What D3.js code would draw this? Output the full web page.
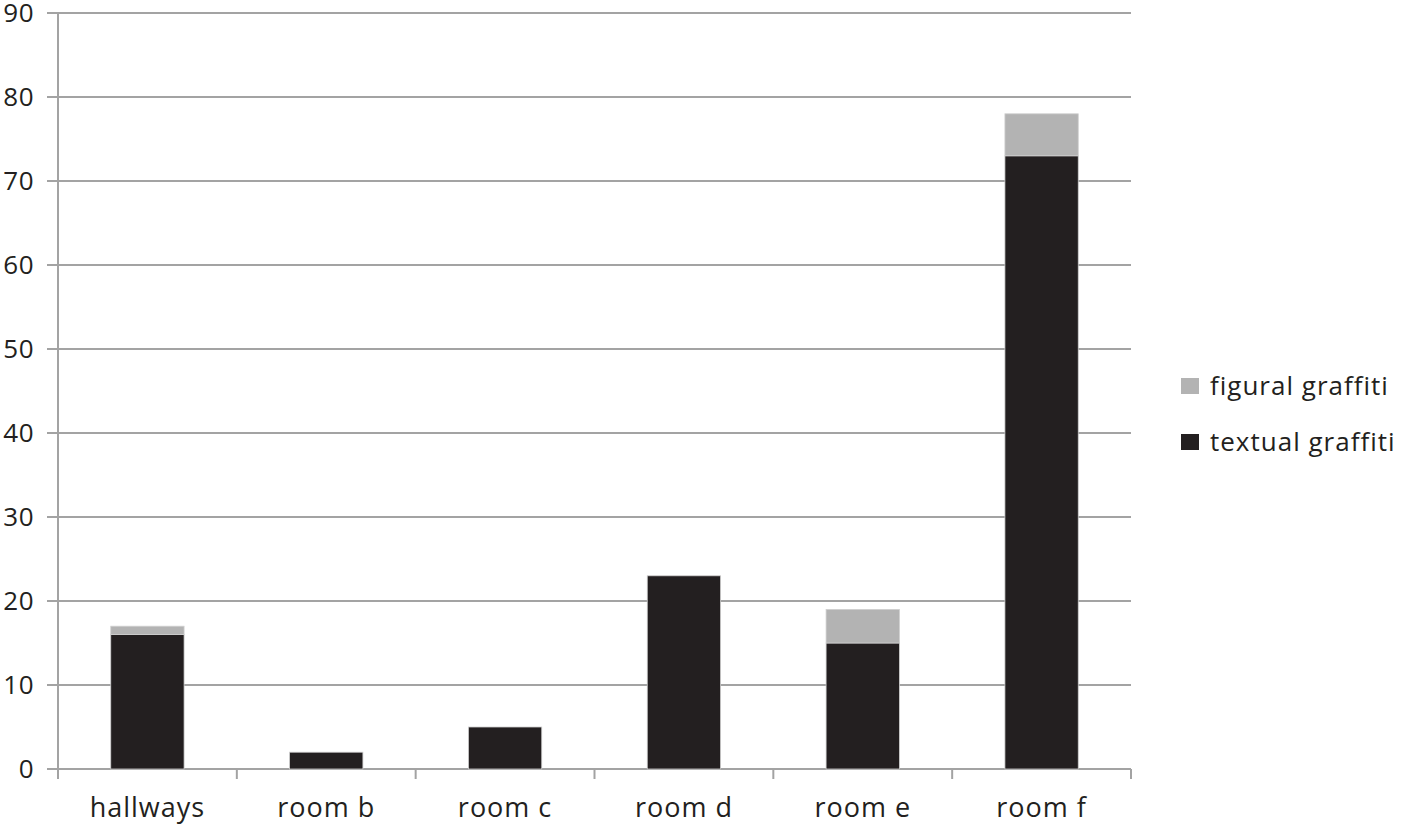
<!DOCTYPE html>
<html><head><meta charset="utf-8">
<script src="https://cdn.jsdelivr.net/npm/d3@7"></script>
<style>body{margin:0;background:#fff}svg{display:block}</style>
</head><body>
<svg id="chart" width="1401" height="827"></svg>
<script>
const categories = ["hallways","room b","room c","room d","room e","room f"];
const textual = [16, 2, 5, 23, 15, 73];
const figural = [1, 0, 0, 0, 4, 5];
const seriesNames = ["textual graffiti","figural graffiti"];
const yTicks = [0,10,20,30,40,50,60,70,80,90];

(function(){
const svg = d3.select("#chart");
const font = "'Open Sans', 'Noto Sans', sans-serif";
const mLeft = 58, mRight = 1131, mTop = 13, mBottom = 769;
const x = d3.scaleBand().domain(categories).range([mLeft, mRight]).paddingInner(0.59).paddingOuter(0.295);
const y = d3.scaleLinear().domain([0, 90]).range([mBottom, mTop]);
const gridColor = "#a3a3a3";
const textColor = "#231f20";

// gridlines
svg.append("g").selectAll("line").data(yTicks).join("line")
  .attr("x1", mLeft - 11).attr("x2", mRight)
  .attr("y1", d => y(d)).attr("y2", d => y(d))
  .attr("stroke", gridColor).attr("stroke-width", 2);

// y axis line
svg.append("line").attr("x1", mLeft).attr("x2", mLeft).attr("y1", mTop).attr("y2", mBottom)
  .attr("stroke", gridColor).attr("stroke-width", 2);

// y labels
svg.append("g").selectAll("text").data(yTicks).join("text")
  .attr("x", 34).attr("y", d => y(d)).attr("dy", "0.35em")
  .attr("text-anchor", "end").attr("font-family", font).attr("font-size", 26)
  .attr("letter-spacing", 0.5)
  .attr("fill", textColor).text(d => d);

// x ticks
const xTickPos = categories.map(c => x(c) - x.step()*x.paddingInner()/2).concat([mRight]);
svg.append("g").selectAll("line").data(xTickPos).join("line")
  .attr("x1", d => d).attr("x2", d => d).attr("y1", mBottom).attr("y2", mBottom + 10)
  .attr("stroke", gridColor).attr("stroke-width", 2);

// stacked data
const data = categories.map((c, i) => ({cat: c, textual: textual[i], figural: figural[i]}));
const stack = d3.stack().keys(["textual","figural"])(data);
const colors = {textual: "#231f20", figural: "#b3b3b3"};

svg.append("g").selectAll("g").data(stack).join("g")
  .attr("fill", d => colors[d.key])
  .selectAll("rect").data(d => d.filter(p => p[1] > p[0])).join("rect")
  .attr("x", d => x(d.data.cat)).attr("width", x.bandwidth())
  .attr("y", d => y(d[1])).attr("height", d => y(d[0]) - y(d[1]))
  .attr("stroke", "#cfcfcf").attr("stroke-width", 0.8);

// x labels
svg.append("g").selectAll("text").data(categories).join("text")
  .attr("x", d => x(d) + x.bandwidth()/2).attr("y", 817)
  .attr("text-anchor", "middle").attr("font-family", font).attr("font-size", 27)
  .attr("letter-spacing", 1)
  .attr("fill", textColor).text(d => d);

// legend
const legendItems = [{key: "figural", name: seriesNames[1]}, {key: "textual", name: seriesNames[0]}];
const lg = svg.append("g").selectAll("g").data(legendItems).join("g")
  .attr("transform", (d, i) => `translate(1181, ${378 + i*56})`);
lg.append("rect").attr("width", 18).attr("height", 16).attr("fill", d => colors[d.key]);
lg.append("text").attr("x", 29).attr("y", 8).attr("dy", "0.35em")
  .attr("font-family", font).attr("font-size", 26).attr("letter-spacing", 1)
  .attr("fill", textColor).text(d => d.name);
})();
</script>
</body></html>
